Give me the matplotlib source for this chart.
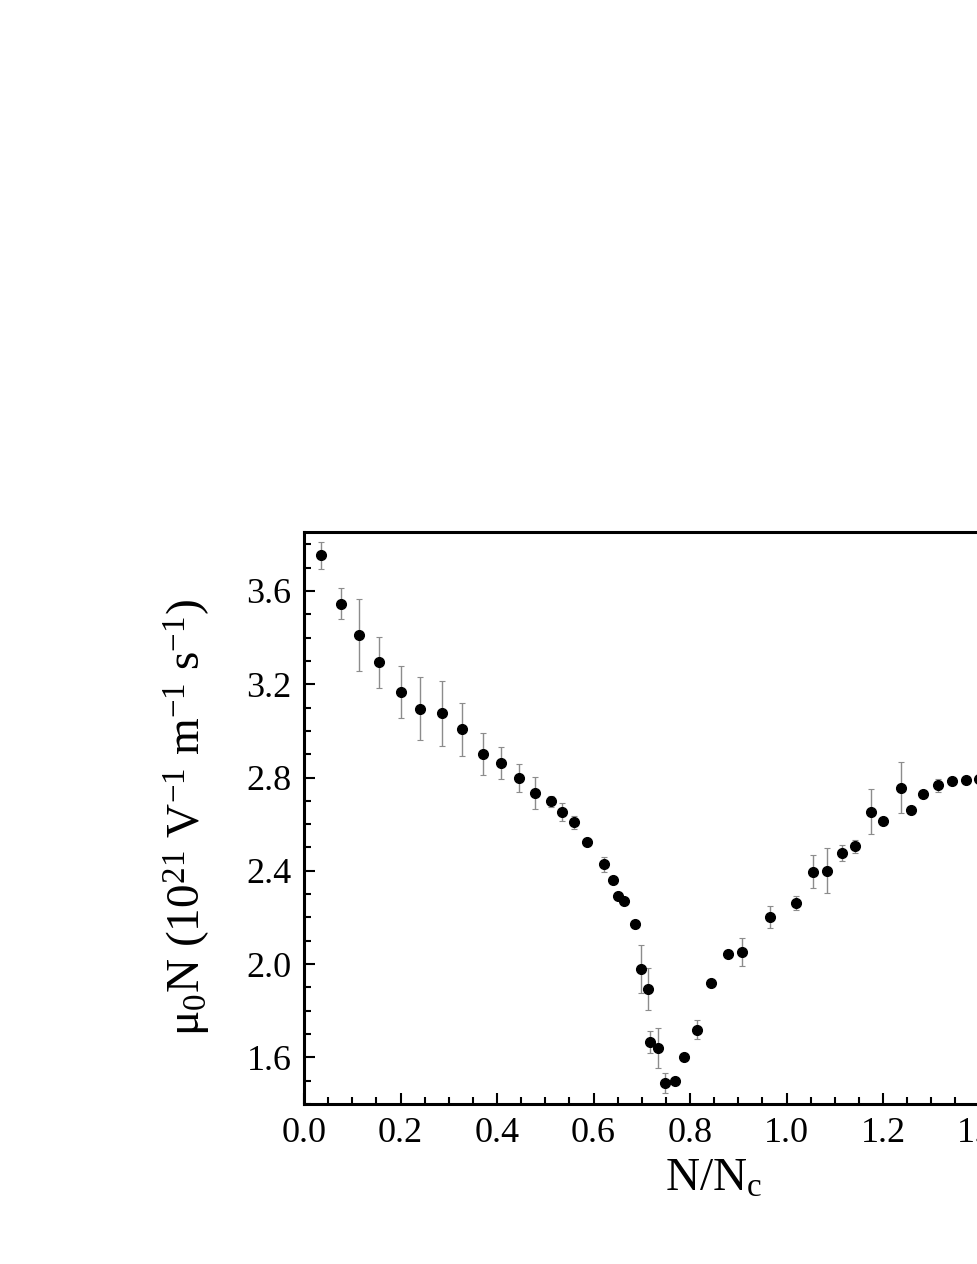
import matplotlib
matplotlib.use("Agg")
import matplotlib.pyplot as plt
from matplotlib.ticker import MultipleLocator, FormatStrFormatter

plt.rcParams['font.family'] = ['Liberation Serif', 'DejaVu Serif']
plt.rcParams['mathtext.fontset'] = 'custom'
plt.rcParams['mathtext.rm'] = 'Liberation Serif'
plt.rcParams['mathtext.it'] = 'Liberation Serif:italic'

# Data
n_ratio = [0.035, 0.076, 0.113, 0.155, 0.202, 0.241, 0.286, 0.328, 0.370, 0.409,
           0.446, 0.479, 0.512, 0.535, 0.559, 0.587, 0.621, 0.640, 0.651, 0.664,
           0.687, 0.698, 0.712, 0.718, 0.733, 0.748, 0.769, 0.788, 0.815, 0.843,
           0.879, 0.908, 0.966, 1.020, 1.054, 1.083, 1.116, 1.143, 1.175, 1.201,
           1.237, 1.259, 1.283, 1.315, 1.342, 1.373, 1.400]
mu0N = [3.753, 3.546, 3.413, 3.294, 3.167, 3.095, 3.076, 3.007, 2.900, 2.862,
        2.798, 2.734, 2.698, 2.651, 2.608, 2.522, 2.428, 2.359, 2.291, 2.271,
        2.171, 1.979, 1.893, 1.665, 1.639, 1.491, 1.499, 1.603, 1.719, 1.919,
        2.043, 2.051, 2.202, 2.263, 2.396, 2.401, 2.476, 2.505, 2.654, 2.615,
        2.757, 2.660, 2.729, 2.767, 2.784, 2.790, 2.795]
mu0N_err = [0.057, 0.066, 0.154, 0.110, 0.110, 0.135, 0.139, 0.114, 0.091, 0.069,
            0.061, 0.069, 0.023, 0.039, 0.028, 0.010, 0.031, 0.010, 0.000, 0.010,
            0.015, 0.105, 0.089, 0.046, 0.086, 0.043, 0.000, 0.000, 0.040, 0.012,
            0.000, 0.059, 0.049, 0.031, 0.071, 0.096, 0.036, 0.028, 0.097, 0.000,
            0.110, 0.000, 0.000, 0.027, 0.000, 0.000, 0.000]

W, H = 977, 1264
fig = plt.figure(figsize=(W / 100, H / 100), dpi=100)
left, bottom, top = 304, 1104, 532
xmax = 1.7
px_per_unit = 482.5
right = left + xmax * px_per_unit
ax = fig.add_axes([left / W, (H - bottom) / H, (right - left) / W, (bottom - top) / H])

ax.errorbar(n_ratio, mu0N, yerr=mu0N_err, fmt='o', color='black', markersize=7,
            ecolor='#8c8c8c', elinewidth=1.0, capsize=2.5, capthick=0.8, zorder=3)

ax.set_xlim(0, xmax)
ax.set_ylim(1.4, 3.853)
ax.xaxis.set_major_locator(MultipleLocator(0.2))
ax.xaxis.set_minor_locator(MultipleLocator(0.05))
ax.yaxis.set_major_locator(MultipleLocator(0.4))
ax.yaxis.set_minor_locator(MultipleLocator(0.1))
ax.xaxis.set_major_formatter(FormatStrFormatter('%.1f'))
ax.yaxis.set_major_formatter(FormatStrFormatter('%.1f'))

ax.tick_params(which='both', direction='in', top=False, right=True, width=1.5,
               labelsize=26)
ax.tick_params(which='major', length=8, pad=9)
ax.tick_params(which='minor', length=5)
for s in ax.spines.values():
    s.set_linewidth(2.2)

ax.set_xlabel(r'N/N$_\mathrm{c}$', fontsize=34, labelpad=6)
ax.set_ylabel(r'μ$_0$N (10$^{21}$ V$^{-1}$ m$^{-1}$ s$^{-1}$)', fontsize=34, labelpad=24)

fig.savefig('out.png', dpi=100)
